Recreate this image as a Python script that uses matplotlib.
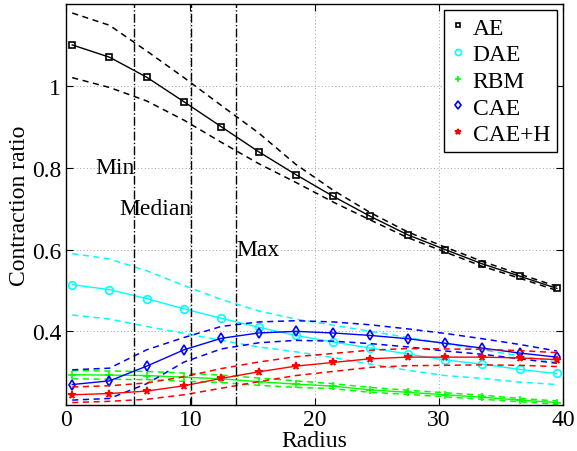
import matplotlib

matplotlib.use("Agg")
import matplotlib.pyplot as plt

plt.rcParams["font.family"] = ["Liberation Serif", "DejaVu Serif"]
plt.rcParams["font.size"] = 17

radius = [0.5, 3.5, 6.5, 9.5, 12.5, 15.5, 18.5, 21.5, 24.5, 27.5, 30.5, 33.5, 36.5, 39.5]

ae = [1.100, 1.070, 1.021, 0.961, 0.900, 0.839, 0.783, 0.730, 0.681, 0.636, 0.600, 0.565, 0.535, 0.505]
ae_hi = [1.178, 1.148, 1.085, 1.020, 0.952, 0.885, 0.808, 0.745, 0.690, 0.643, 0.606, 0.571, 0.540, 0.510]
ae_lo = [1.020, 0.996, 0.963, 0.916, 0.862, 0.810, 0.764, 0.716, 0.672, 0.629, 0.594, 0.559, 0.530, 0.500]

dae = [0.514, 0.502, 0.480, 0.455, 0.432, 0.410, 0.390, 0.374, 0.359, 0.345, 0.330, 0.320, 0.307, 0.297]
dae_hi = [0.590, 0.577, 0.548, 0.512, 0.478, 0.450, 0.430, 0.415, 0.400, 0.385, 0.370, 0.355, 0.340, 0.325]
dae_lo = [0.440, 0.430, 0.412, 0.395, 0.378, 0.362, 0.350, 0.336, 0.320, 0.305, 0.292, 0.285, 0.276, 0.270]

rbm = [0.294, 0.293, 0.292, 0.288, 0.284, 0.277, 0.271, 0.266, 0.257, 0.251, 0.245, 0.239, 0.232, 0.226]
rbm_hi = [0.304, 0.303, 0.302, 0.298, 0.293, 0.286, 0.279, 0.272, 0.263, 0.256, 0.250, 0.244, 0.236, 0.230]
rbm_lo = [0.284, 0.283, 0.282, 0.278, 0.275, 0.268, 0.263, 0.260, 0.251, 0.246, 0.240, 0.234, 0.228, 0.222]

cae = [0.270, 0.279, 0.315, 0.355, 0.383, 0.396, 0.400, 0.396, 0.390, 0.382, 0.371, 0.359, 0.347, 0.337]
cae_hi = [0.306, 0.310, 0.355, 0.385, 0.412, 0.423, 0.426, 0.423, 0.416, 0.406, 0.395, 0.382, 0.368, 0.352]
cae_lo = [0.232, 0.236, 0.272, 0.325, 0.357, 0.372, 0.378, 0.376, 0.370, 0.362, 0.352, 0.344, 0.333, 0.322]

caeh = [0.245, 0.248, 0.254, 0.267, 0.285, 0.301, 0.315, 0.324, 0.333, 0.337, 0.337, 0.337, 0.335, 0.331]
caeh_hi = [0.264, 0.267, 0.274, 0.289, 0.309, 0.325, 0.338, 0.346, 0.354, 0.358, 0.357, 0.356, 0.353, 0.348]
caeh_lo = [0.226, 0.229, 0.234, 0.245, 0.261, 0.277, 0.292, 0.302, 0.312, 0.316, 0.317, 0.318, 0.317, 0.314]

marks = [("Min", 5.5, 0.8), ("Median", 10.1, 0.7), ("Max", 13.7, 0.6)]

xticks = [0, 10, 20, 30, 40]
yticks = [0.4, 0.6, 0.8, 1.0]
ytick_labels = ["0.4", "0.6", "0.8", "1"]

series = [
    ("AE", ae, ae_hi, ae_lo, "k", "s", 4),
    ("DAE", dae, dae_hi, dae_lo, "#00ffff", "o", 5.5),
    ("RBM", rbm, rbm_hi, rbm_lo, "#00ff00", "+", 6),
    ("CAE", cae, cae_hi, cae_lo, "#0000ff", "d", 5.5),
    ("CAE+H", caeh, caeh_hi, caeh_lo, "#ff0000", "*", 5.5),
]

fig = plt.figure(figsize=(5.77, 4.52), dpi=100)
ax = fig.add_axes([66 / 577, 46 / 452, 497 / 577, 401 / 452])

handles = []
for name, mid, hi, lo, col, mk, ms in series:
    filled = mk == "*"
    ax.plot(radius, hi, "--", color=col, lw=1.1, dashes=(4, 3))
    ax.plot(radius, lo, "--", color=col, lw=1.1, dashes=(4, 3))
    h, = ax.plot(radius, mid, "-", color=col, lw=1.0, marker=mk, ms=ms,
                 mfc=col if filled else "none", mec=col, mew=1.2, label=name)
    handles.append(h)

for label, xv, yv in marks:
    ax.axvline(xv, color="k", ls="-.", lw=1.0)
    ax.text(xv, yv, label, ha="left" if label == "Max" else "right", va="center")

ax.set_xlim(0, 40)
ax.set_ylim(0.22, 1.2)
ax.set_xticks(xticks)
ax.set_yticks(yticks)
ax.set_yticklabels(ytick_labels)
ax.grid(True, color="#a0a0a0", ls=(0, (1, 2.5)), lw=0.7)
ax.tick_params(direction="in", top=True, right=True, length=5, width=0.8)
ax.tick_params(axis="x", pad=3)
for s in ax.spines.values():
    s.set_linewidth(1.0)
ax.set_xlabel("Radius", labelpad=0)
ax.set_ylabel("Contraction ratio", labelpad=1)

proxies = [plt.Line2D([], [], ls="none", marker=h.get_marker(), ms=h.get_markersize() * 0.8,
                      mfc=h.get_markerfacecolor(), mec=h.get_markeredgecolor(), mew=1.2)
           for h in handles]
leg = ax.legend(handles=proxies, labels=[s[0] for s in series], loc="upper right",
                fancybox=False, edgecolor="k", framealpha=1, borderaxespad=0.25,
                handlelength=0.6, handletextpad=0.3, labelspacing=0.22, borderpad=0.3)
leg.get_frame().set_linewidth(1.0)

fig.savefig("out.png", dpi=100)
